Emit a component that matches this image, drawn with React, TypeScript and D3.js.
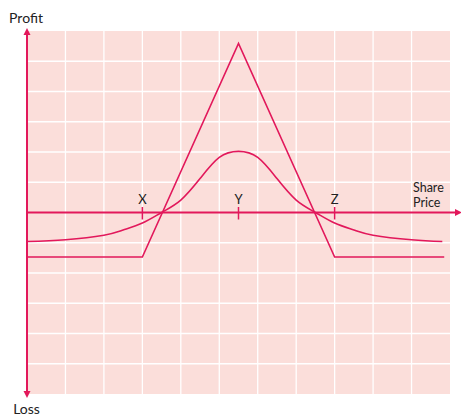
import React from "react";
import * as d3 from "d3";

const W = 461;
const H = 416;

// Share price axis units (grid columns) and profit units (grid rows)
const xGrid = [1, 2, 3, 4, 5, 6, 7, 8, 9, 10];
const yGrid = [-5, -4, -3, -2, -1, 1, 2, 3, 4, 5];

const strikeLabels = ["X", "Y", "Z"];
const strikeValues = [3, 5.5, 8];

// payoff at expiry
const expiryX = [0, 3, 5.5, 8, 10.85];
const expiryY = [-1.47, -1.47, 5.59, -1.47, -1.47];

// value before expiry
const curveX = [0, 1, 2, 2.5, 3, 3.5, 4, 4.5, 5, 5.5, 6, 6.5, 7, 7.5, 8, 8.5, 9, 10, 10.8];
const curveY = [-0.96, -0.9, -0.75, -0.58, -0.35, 0, 0.41, 1.12, 1.82, 2.02, 1.82, 1.12, 0.41, 0, -0.35, -0.58, -0.75, -0.9, -0.96];

const RED = "#e2185b";
const BG = "#fbdeda";
const FONT = "Lato, 'Open Sans', sans-serif";

export default function App() {
  const x = d3.scaleLinear().domain([0, 11]).range([27, 450]);
  const y = d3.scaleLinear().domain([-6, 6]).range([394, 31]);

  const line = d3
    .line<[number, number]>()
    .x((d) => x(d[0]))
    .y((d) => y(d[1]));
  const smooth = d3
    .line<[number, number]>()
    .x((d) => x(d[0]))
    .y((d) => y(d[1]))
    .curve(d3.curveNatural);

  const expiry = expiryX.map((v, i) => [v, expiryY[i]] as [number, number]);
  const curve = curveX.map((v, i) => [v, curveY[i]] as [number, number]);

  const x0 = x(0);
  const y0 = y(0);

  return (
    <svg
      width={W}
      height={H}
      style={{ position: "absolute", left: 0, top: 0, display: "block" }}
    >
      <rect x={x(0)} y={y(6)} width={x(11) - x(0)} height={y(-6) - y(6)} fill={BG} />
      {xGrid.map((g) => (
        <line key={"gx" + g} x1={x(g)} x2={x(g)} y1={y(6)} y2={y(-6)} stroke="#fff" strokeWidth={1.3} />
      ))}
      {yGrid.map((g) => (
        <line key={"gy" + g} x1={x(0)} x2={x(11)} y1={y(g)} y2={y(g)} stroke="#fff" strokeWidth={1.3} />
      ))}

      {/* axes */}
      <line x1={x0} x2={x0} y1={33} y2={393} stroke={RED} strokeWidth={2} />
      <path d={`M${x0},28 L${x0 - 3.5},35 L${x0 + 3.5},35 Z`} fill={RED} />
      <path d={`M${x0},398 L${x0 - 3.5},391 L${x0 + 3.5},391 Z`} fill={RED} />
      <line x1={x0} x2={456} y1={y0} y2={y0} stroke={RED} strokeWidth={2} />
      <path d={`M462,${y0} L455,${y0 - 3.5} L455,${y0 + 3.5} Z`} fill={RED} />

      {/* ticks and labels */}
      {strikeValues.map((s, i) => (
        <g key={"s" + i}>
          <line x1={x(s)} x2={x(s)} y1={y0 - 5.5} y2={y0 + 7} stroke={RED} strokeWidth={1.5} />
          <text x={x(s)} y={204} textAnchor="middle" fontFamily={FONT} fontSize={13} fill="#222">
            {strikeLabels[i]}
          </text>
        </g>
      ))}

      <path d={line(expiry) || ""} fill="none" stroke={RED} strokeWidth={1.6} strokeLinejoin="miter" />
      <path d={smooth(curve) || ""} fill="none" stroke={RED} strokeWidth={1.6} />

      <text x={26} y={23} textAnchor="middle" fontFamily={FONT} fontSize={14} fill="#222">
        Profit
      </text>
      <text x={26.5} y={414} textAnchor="middle" fontFamily={FONT} fontSize={14} fill="#222">
        Loss
      </text>
      <text x={413} y={192} fontFamily={FONT} fontSize={12.5} fill="#222">
        Share
      </text>
      <text x={413} y={207} fontFamily={FONT} fontSize={12.5} fill="#222">
        Price
      </text>
    </svg>
  );
}
